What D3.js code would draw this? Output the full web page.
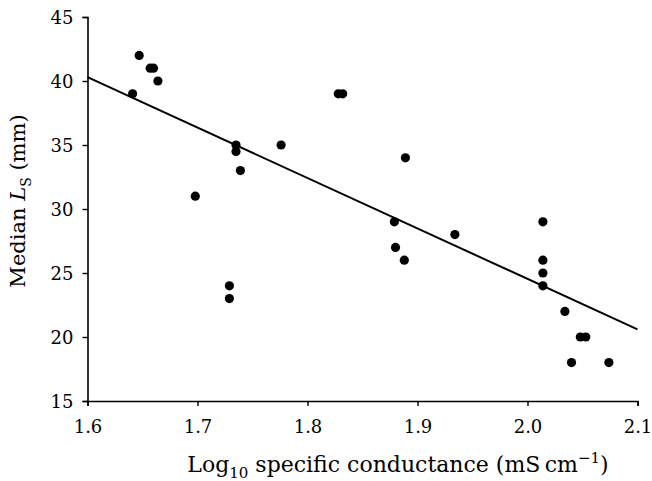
<!DOCTYPE html>
<html>
    <head>
        <script src="https://cdnjs.cloudflare.com/ajax/libs/d3/7.8.5/d3.min.js"></script>
        <title>Median LS vs conductance</title>
        <style>
            html, body {
                margin: 0;
                background: white;
            }
            svg {
                display: block;
                font-family: "DejaVu Serif", serif;
            }
        </style>
    </head>
    <body>
        <svg width="652" height="481"></svg>

        <script>
            // log10 specific conductance and median Ls (mm)
            var conductance = [1.641, 1.647, 1.657, 1.660, 1.664,
                               1.698, 1.729, 1.729, 1.735, 1.735, 1.739, 1.776,
                               1.828, 1.832, 1.879, 1.880, 1.888, 1.889, 1.934,
                               2.014, 2.014, 2.014, 2.014, 2.034, 2.040, 2.048, 2.053, 2.074];
            var medianLs = [39, 42, 41, 41, 40,
                            31, 24, 23, 35, 34.5, 33, 35,
                            39, 39, 29, 27, 26, 34, 28,
                            29, 26, 25, 24, 22, 18, 20, 20, 18];

            // fitted line end points
            var fitX = [1.6, 2.1];
            var fitY = [40.3, 20.6];

            var xTicks = [1.6, 1.7, 1.8, 1.9, 2.0, 2.1];
            var yTicks = [15, 20, 25, 30, 35, 40, 45];

            var margin = {left: 87.5, right: 14.5, top: 17, bottom: 80};
            var width = 652, height = 481;

            var svg = d3.select("svg");

            var x = d3.scaleLinear()
                .domain([1.6, 2.1])
                .range([margin.left, width - margin.right]);

            var y = d3.scaleLinear()
                .domain([15, 45])
                .range([height - margin.bottom, margin.top]);

            var xAxis = svg.append("g")
                .attr("transform", "translate(0," + y(15) + ")")
                .call(d3.axisBottom(x).tickValues(xTicks).tickFormat(d3.format(".1f")).tickSize(5).tickPadding(14));

            var yAxis = svg.append("g")
                .attr("transform", "translate(" + x(1.6) + ",0)")
                .call(d3.axisLeft(y).tickValues(yTicks).tickSize(5).tickPadding(9));

            [xAxis, yAxis].forEach(function(a){
                a.select(".domain").attr("stroke", "#000").attr("stroke-width", 1.6);
                a.selectAll(".tick line").attr("stroke", "#000").attr("stroke-width", 1.4);
                a.selectAll(".tick text")
                    .attr("fill", "#000")
                    .style("font-family", "DejaVu Serif, serif")
                    .style("font-size", "18px");
            });
            yAxis.selectAll(".tick text").attr("dy", "0.36em");

            // regression line
            var line = d3.line()
                .x(function(d){ return x(d[0]); })
                .y(function(d){ return y(d[1]); });

            svg.append("path")
                .datum(d3.zip(fitX, fitY))
                .attr("d", line)
                .attr("fill", "none")
                .attr("stroke", "#000")
                .attr("stroke-width", 2);

            svg.selectAll(".dot")
                .data(d3.zip(conductance, medianLs))
                .enter()
                .append("circle")
                .attr("class", "dot")
                .attr("cx", function(d){ return x(d[0]); })
                .attr("cy", function(d){ return y(d[1]); })
                .attr("r", 4.6)
                .attr("fill", "#000");

            // x axis title
            var xt = svg.append("text")
                .attr("x", 398)
                .attr("y", 472)
                .attr("text-anchor", "middle")
                .style("font-size", "22px");
            xt.append("tspan").text("Log");
            xt.append("tspan").attr("dy", 6).style("font-size", "15px").text("10");
            xt.append("tspan").attr("dy", -6).text(" specific conductance (mS\u2009cm");
            xt.append("tspan").attr("dy", -9).style("font-size", "15px").text("\u22121");
            xt.append("tspan").attr("dy", 9).text(")");

            // y axis title
            var yt = svg.append("text")
                .attr("transform", "translate(25,201) rotate(-90)")
                .attr("text-anchor", "middle")
                .style("font-size", "21px");
            yt.append("tspan").text("Median ");
            yt.append("tspan").style("font-style", "italic").text("L");
            yt.append("tspan").attr("dy", 6).style("font-size", "14px").text("S");
            yt.append("tspan").attr("dy", -6).text(" (mm)");
        </script>
    </body>
</html>
